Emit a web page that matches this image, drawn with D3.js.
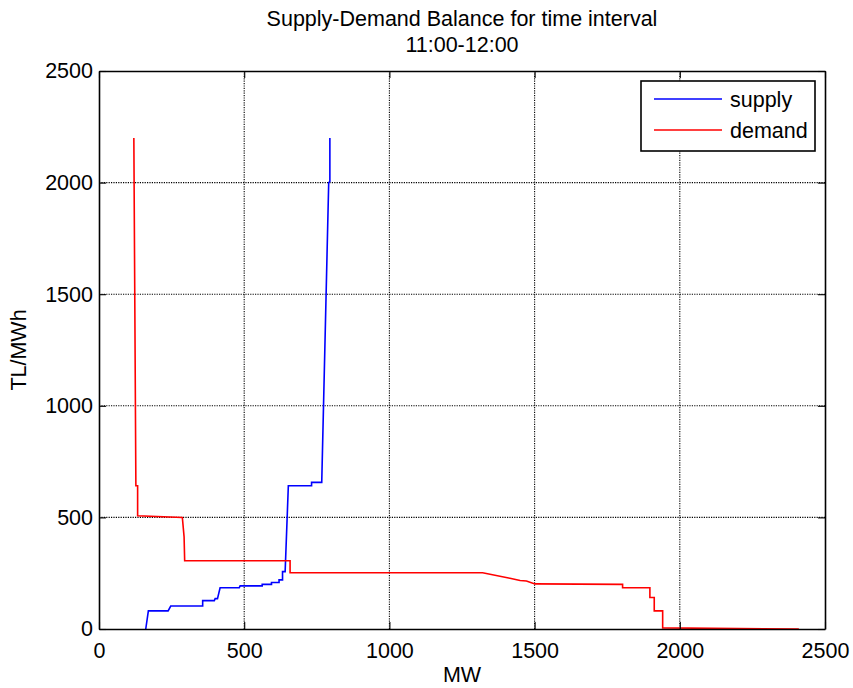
<!DOCTYPE html>
<html>
<head>
<meta charset="utf-8">
<script src="https://cdn.jsdelivr.net/npm/d3@7"></script>
<style>
  html, body { margin: 0; padding: 0; background: #fff; }
  svg { display: block; font-family: "Liberation Sans", Arial, sans-serif; }
</style>
</head>
<body>
<svg id="chart" width="853" height="688"></svg>
<script>
const titleLines = ["Supply-Demand Balance for time interval", "11:00-12:00"];
const xLabel = "MW";
const yLabel = "TL/MWh";
const xTicks = [0, 500, 1000, 1500, 2000, 2500];
const yTicks = [0, 500, 1000, 1500, 2000, 2500];
const seriesNames = ["supply", "demand"];
const seriesColors = ["#0000ff", "#ff0000"];

// supply curve: [MW, TL/MWh]
const supplyMW = [161, 170, 238, 247, 357, 357, 397, 400, 408, 417, 483, 486, 562, 562, 594, 594, 620, 620, 632, 632, 641, 652, 732, 732, 767, 791, 795, 795];
const supplyPrice = [0, 81, 81, 103, 103, 127, 127, 136, 136, 185, 185, 193, 193, 200, 200, 208, 208, 220, 220, 257, 257, 642, 642, 657, 657, 2000, 2005, 2200];

// demand curve: [MW, TL/MWh]
const demandMW = [120, 127, 133, 133, 287, 293, 295, 658, 658, 1321, 1415, 1450, 1472, 1501, 1803, 1803, 1897, 1897, 1912, 1912, 1941, 1941, 2410];
const demandPrice = [2200, 642, 642, 507, 500, 413, 306, 306, 252, 252, 227, 217, 215, 202, 200, 185, 185, 141, 141, 81, 81, 5, 0];

const svg = d3.select("#chart");
const L = 99, T = 71, W = 726, H = 558;
const fs = 21.5;

const x = d3.scaleLinear().domain([0, 2500]).range([L, L + W]);
const y = d3.scaleLinear().domain([0, 2500]).range([T + H, T]);

// grid
const grid = svg.append("g").attr("stroke", "#000").attr("stroke-width", 1.1).attr("stroke-dasharray", "1.2,1.2");
xTicks.slice(1, -1).forEach(v => {
  grid.append("line").attr("x1", x(v)).attr("x2", x(v)).attr("y1", T).attr("y2", T + H);
});
yTicks.slice(1, -1).forEach(v => {
  grid.append("line").attr("x1", L).attr("x2", L + W).attr("y1", y(v)).attr("y2", y(v));
});

// data lines
const line = d3.line().x(d => x(d[0])).y(d => y(d[1]));
const supply = supplyMW.map((m, i) => [m, supplyPrice[i]]);
const demand = demandMW.map((m, i) => [m, demandPrice[i]]);
[supply, demand].forEach((data, i) => {
  svg.append("path").datum(data).attr("d", line)
    .attr("fill", "none").attr("stroke", seriesColors[i]).attr("stroke-width", 1.6)
    .attr("stroke-linejoin", "miter");
});

// axes with inward ticks (MATLAB style box)
const tl = 7;
const fmt = d3.format("d");
const axBottom = d3.axisBottom(x).tickValues(xTicks).tickSizeInner(-tl).tickSizeOuter(0).tickPadding(14).tickFormat(fmt);
const axTop = d3.axisTop(x).tickValues(xTicks).tickSizeInner(-tl).tickSizeOuter(0).tickFormat("");
const axLeft = d3.axisLeft(y).tickValues(yTicks).tickSizeInner(-tl).tickSizeOuter(0).tickPadding(6).tickFormat(fmt);
const axRight = d3.axisRight(y).tickValues(yTicks).tickSizeInner(-tl).tickSizeOuter(0).tickFormat("");

function styleAxis(g) {
  g.select(".domain").attr("stroke", "#000").attr("stroke-width", 1.6);
  g.selectAll(".tick line").attr("stroke", "#000").attr("stroke-width", 1.1);
  g.selectAll(".tick text").attr("fill", "#000").attr("font-size", fs).attr("font-family", "Liberation Sans, Arial, sans-serif");
}
svg.append("g").attr("transform", `translate(0,${T + H})`).call(axBottom).call(styleAxis);
svg.append("g").attr("transform", `translate(0,${T})`).call(axTop).call(styleAxis);
svg.append("g").attr("transform", `translate(${L},0)`).call(axLeft).call(styleAxis);
svg.append("g").attr("transform", `translate(${L + W},0)`).call(axRight).call(styleAxis);

// title
svg.append("g").selectAll("text").data(titleLines).join("text")
  .attr("x", L + W / 2).attr("y", (d, i) => 26 + i * 26)
  .attr("text-anchor", "middle").attr("font-size", fs).attr("fill", "#000")
  .text(d => d);

// axis labels
svg.append("text").attr("x", L + W / 2).attr("y", 682).attr("text-anchor", "middle")
  .attr("font-size", fs).attr("fill", "#000").text(xLabel);
svg.append("text").attr("transform", `translate(26,${T + H / 2}) rotate(-90)`)
  .attr("text-anchor", "middle").attr("font-size", fs).attr("fill", "#000").text(yLabel);

// legend
const lg = svg.append("g");
lg.append("rect").attr("x", 641).attr("y", 81).attr("width", 174).attr("height", 70)
  .attr("fill", "#fff").attr("stroke", "#000").attr("stroke-width", 1.6);
seriesNames.forEach((n, i) => {
  const yy = 99 + i * 31;
  lg.append("line").attr("x1", 654).attr("x2", 722).attr("y1", yy).attr("y2", yy)
    .attr("stroke", seriesColors[i]).attr("stroke-width", 1.6);
  lg.append("text").attr("x", 730).attr("y", yy).attr("dy", "0.35em")
    .attr("font-size", fs).attr("fill", "#000").text(n);
});
</script>
</body>
</html>
